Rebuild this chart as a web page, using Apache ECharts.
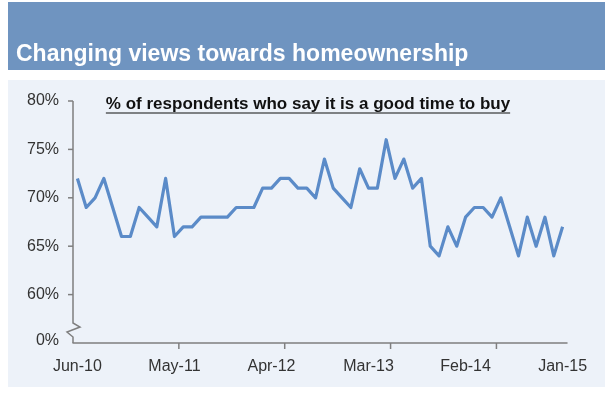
<!DOCTYPE html>
<html>
<head>
<meta charset="utf-8">
<script src="https://cdn.jsdelivr.net/npm/echarts@6/dist/echarts.min.js"></script>
<style>
  html, body { margin: 0; padding: 0; background: #ffffff; }
  #chart { width: 605px; height: 396px; }
</style>
</head>
<body>
<div id="chart"></div>
<script>
// Monthly survey readings, June 2010 to January 2015
const months = [
  'Jun-10','Jul-10','Aug-10','Sep-10','Oct-10','Nov-10','Dec-10',
  'Jan-11','Feb-11','Mar-11','Apr-11','May-11','Jun-11','Jul-11','Aug-11','Sep-11','Oct-11','Nov-11','Dec-11',
  'Jan-12','Feb-12','Mar-12','Apr-12','May-12','Jun-12','Jul-12','Aug-12','Sep-12','Oct-12','Nov-12','Dec-12',
  'Jan-13','Feb-13','Mar-13','Apr-13','May-13','Jun-13','Jul-13','Aug-13','Sep-13','Oct-13','Nov-13','Dec-13',
  'Jan-14','Feb-14','Mar-14','Apr-14','May-14','Jun-14','Jul-14','Aug-14','Sep-14','Oct-14','Nov-14','Dec-14',
  'Jan-15'
];

// % of respondents who say it is a good time to buy
const goodTimeToBuy = [
  72, 69, 70, 72, 69, 66, 66,
  69, 68, 67, 72, 66, 67, 67, 68, 68, 68, 68, 69,
  69, 69, 71, 71, 72, 72, 71, 71, 70, 74, 71, 70,
  69, 73, 71, 71, 76, 72, 74, 71, 72, 65, 64, 67,
  65, 68, 69, 69, 68, 70, 67, 64, 68, 65, 68, 64,
  67
];

// Visible y ticks; the axis is broken below 60%, and its bottom reads 0%
const yTicks = [60, 65, 70, 75, 80];
const yBreakValue = 55;
const yBreakLabel = '0%';
// Every twelfth month boundary carries a tick mark on the x axis
const xTickBoundaries = [12, 24, 36, 48];

const titleText = 'Changing views towards homeownership';
const subtitleText = '% of respondents who say it is a good time to buy';

const FONT = "'Liberation Sans', Arial, Helvetica, sans-serif";
const AXIS_COLOR = '#7f7f7f';
const LABEL_COLOR = '#333333';

const chart = echarts.init(document.getElementById('chart'), null, { renderer: 'canvas' });

chart.setOption({
  animation: false,
  backgroundColor: '#ffffff',
  grid: { left: 73, right: 38, top: 101, bottom: 53, containLabel: false },
  xAxis: {
    type: 'category',
    data: months,
    boundaryGap: true,
    axisLine: { lineStyle: { color: AXIS_COLOR, width: 1.5 } },
    axisTick: { show: false },
    axisLabel: {
      interval: 10,
      color: LABEL_COLOR,
      fontFamily: FONT,
      fontSize: 16,
      margin: 16
    },
    splitLine: { show: false }
  },
  yAxis: {
    type: 'value',
    min: yBreakValue,
    max: 80,
    interval: 5,
    axisLine: { show: false },
    axisTick: { show: false },
    splitLine: { show: false },
    axisLabel: {
      color: LABEL_COLOR,
      fontFamily: FONT,
      fontSize: 16,
      margin: 14,
      formatter: function (v) {
        return v === yBreakValue ? '{z|' + yBreakLabel + '}' : v + '%';
      },
      rich: {
        z: { color: LABEL_COLOR, fontFamily: FONT, fontSize: 16, padding: [0, 0, 5, 0] }
      }
    }
  },
  series: [{
    type: 'line',
    data: goodTimeToBuy,
    symbol: 'none',
    smooth: false,
    lineStyle: { color: '#5b8bc8', width: 3.2, join: 'round' },
    z: 5
  }]
});

// Axis geometry taken from the library's own scales
const px = (i, v) => chart.convertToPixel({ gridIndex: 0 }, [i, v]);
const band = px(1, 60)[0] - px(0, 60)[0];
const x0 = px(0, 60)[0] - band / 2;
const yPix = v => chart.convertToPixel({ yAxisIndex: 0 }, v);
const yBottom = yPix(yBreakValue);
const yTop = yPix(80);
const yb = yBottom - 20;

// Vertical axis with the break zigzag near the bottom
const axisPoints = [
  [x0, yTop], [x0, yb], [x0 + 7, yb + 4], [x0 - 6, yb + 9], [x0, yb + 14], [x0, yBottom]
];

const elements = [
  { type: 'rect', z: -100, silent: true,
    shape: { x: 8, y: 2, width: 597, height: 68 },
    style: { fill: '#6f94c0' } },
  { type: 'rect', z: -100, silent: true,
    shape: { x: 8, y: 80, width: 597, height: 307 },
    style: { fill: '#edf2f9' } },
  { type: 'text', z: 10, silent: true, x: 16, y: 55,
    style: { text: titleText, fill: '#ffffff', font: 'bold 23px ' + FONT, verticalAlign: 'middle', align: 'left' } },
  { type: 'polyline', z: 10, silent: true,
    shape: { points: axisPoints },
    style: { stroke: AXIS_COLOR, lineWidth: 1.5, fill: null, lineJoin: 'miter' } }
];

yTicks.forEach(v => {
  const y = yPix(v);
  elements.push({ type: 'line', z: 10, silent: true,
    shape: { x1: x0 - 5, y1: y, x2: x0, y2: y },
    style: { stroke: AXIS_COLOR, lineWidth: 1.5 } });
});

xTickBoundaries.forEach(i => {
  const x = (px(i - 1, 60)[0] + px(i, 60)[0]) / 2;
  elements.push({ type: 'line', z: 10, silent: true,
    shape: { x1: x, y1: yBottom, x2: x, y2: yBottom + 6 },
    style: { stroke: AXIS_COLOR, lineWidth: 1.5 } });
});

// Underlined subtitle
const subFont = 'bold 17px ' + FONT;
const ctx = document.createElement('canvas').getContext('2d');
ctx.font = subFont;
const subW = ctx.measureText(subtitleText).width;
const subCx = 308, subCy = 104;
elements.push({ type: 'text', z: 10, silent: true, x: subCx, y: subCy,
  style: { text: subtitleText, fill: '#111111', font: subFont, align: 'center', verticalAlign: 'middle' } });
elements.push({ type: 'line', z: 10, silent: true,
  shape: { x1: subCx - subW / 2, y1: subCy + 9, x2: subCx + subW / 2, y2: subCy + 9 },
  style: { stroke: '#111111', lineWidth: 1.2 } });

chart.setOption({ graphic: { elements: elements } });
</script>
</body>
</html>
